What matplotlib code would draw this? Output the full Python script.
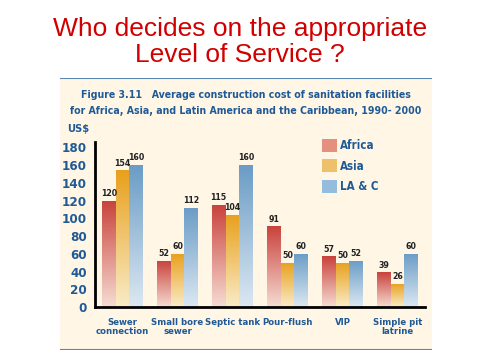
import numpy as np
import matplotlib
matplotlib.use("Agg")
import matplotlib.pyplot as plt
from matplotlib.patches import Patch
from matplotlib.colors import LinearSegmentedColormap
from matplotlib.font_manager import FontProperties

categories = ["Sewer\nconnection", "Small bore\nsewer", "Septic tank", "Pour-flush", "VIP", "Simple pit\nlatrine"]
series_names = ["Africa", "Asia", "LA & C"]
africa = [120, 52, 115, 91, 57, 39]
asia = [154, 60, 104, 50, 50, 26]
lac = [160, 112, 160, 60, 52, 60]
yticks = [0, 20, 40, 60, 80, 100, 120, 140, 160, 180]

top_colors = ["#c8423c", "#e8a01c", "#6a9cc6"]
bot_colors = ["#f6dcd2", "#f9ecc8", "#dce8f2"]
legend_colors = ["#e4907e", "#eec06a", "#94bcdc"]

blue_txt = "#1f5a96"
cream = "#fff6e6"


def fp(size, weight="bold"):
    return FontProperties(family="DejaVu Sans", stretch="condensed", weight=weight, size=size)


W, H = 481, 361
fig = plt.figure(figsize=(W / 100, H / 100), dpi=100)
fig.patch.set_facecolor("white")

# cream panel
panel = fig.add_axes([60 / W, 1 - 350 / H, (432 - 60) / W, (350 - 78) / H])
panel.set_facecolor(cream)
panel.set_xticks([]); panel.set_yticks([])
for s in panel.spines.values():
    s.set_visible(False)
panel.set_xlim(0, 1); panel.set_ylim(0, 1)
panel.axhline(1, color="#5a86b0", lw=1.5)
panel.axhline(0, color="#5a86b0", lw=1.5)

fig.text(246 / W, 1 - 95 / H,
         "Figure 3.11   Average construction cost of sanitation facilities",
         ha="center", va="center", color=blue_txt, fontproperties=fp(7.6))
fig.text(246 / W, 1 - 110.5 / H,
         "for Africa, Asia, and Latin America and the Caribbean, 1990- 2000",
         ha="center", va="center", color=blue_txt, fontproperties=fp(7.6))

fig.text(240 / W, 1 - 29 / H, "Who decides on the appropriate", ha="center", va="center",
         color="#d00000", fontsize=19, family=["Liberation Sans", "DejaVu Sans"])
fig.text(240 / W, 1 - 55 / H, "Level of Service ?", ha="center", va="center",
         color="#d00000", fontsize=19, family=["Liberation Sans", "DejaVu Sans"])

ax = fig.add_axes([95 / W, 1 - 307 / H, (425 - 95) / W, (307 - 142) / H])
ax.set_facecolor("none")

x = np.arange(len(categories))
w = 0.25
grad = np.linspace(0, 1, 256).reshape(-1, 1)
for i, vals in enumerate([africa, asia, lac]):
    cmap = LinearSegmentedColormap.from_list("g%d" % i, [bot_colors[i], top_colors[i]])
    bars = ax.bar(x + (i - 1) * w, vals, width=w, color="none", edgecolor="none")
    for b, v in zip(bars, vals):
        x0 = b.get_x(); x1 = x0 + b.get_width()
        im = ax.imshow(grad, cmap=cmap, aspect="auto", origin="lower",
                       extent=[x0, x1, 0, v], zorder=2)
        im.set_clip_path(b)
        ax.text(b.get_x() + b.get_width() / 2, v + 3, str(v), ha="center", va="bottom",
                color="#222222", fontproperties=fp(6.3), zorder=3)
ax.set_xlim(-0.5, 5.5)
ax.set_ylim(0, 186)

ax.set_yticks(yticks)
ax.set_yticklabels([str(t) for t in yticks], color=blue_txt, fontproperties=fp(9.5))
ax.set_xticks(x)
ax.set_xticklabels(categories, color=blue_txt, fontproperties=fp(6.8), linespacing=0.95)
ax.tick_params(length=0)
ax.tick_params(axis="y", pad=6)
ax.tick_params(axis="x", pad=8)
for s in ["top", "right"]:
    ax.spines[s].set_visible(False)
ax.spines["left"].set_linewidth(2)
ax.spines["bottom"].set_linewidth(2)

fig.text(67 / W, 1 - 129 / H, "US$", ha="left", va="center", color=blue_txt,
         fontproperties=fp(8))

handles = [Patch(facecolor=c, edgecolor="none") for c in legend_colors]
leg = fig.legend(handles, series_names, loc="upper left",
                 bbox_to_anchor=(322 / W, 1 - 139 / H), frameon=False,
                 borderpad=0, borderaxespad=0,
                 handlelength=1.3, handleheight=1.35, handletextpad=0.3,
                 labelspacing=0.62, prop=fp(8.3))
for t in leg.get_texts():
    t.set_color(blue_txt)

fig.savefig("out.png", dpi=100, facecolor="white")
